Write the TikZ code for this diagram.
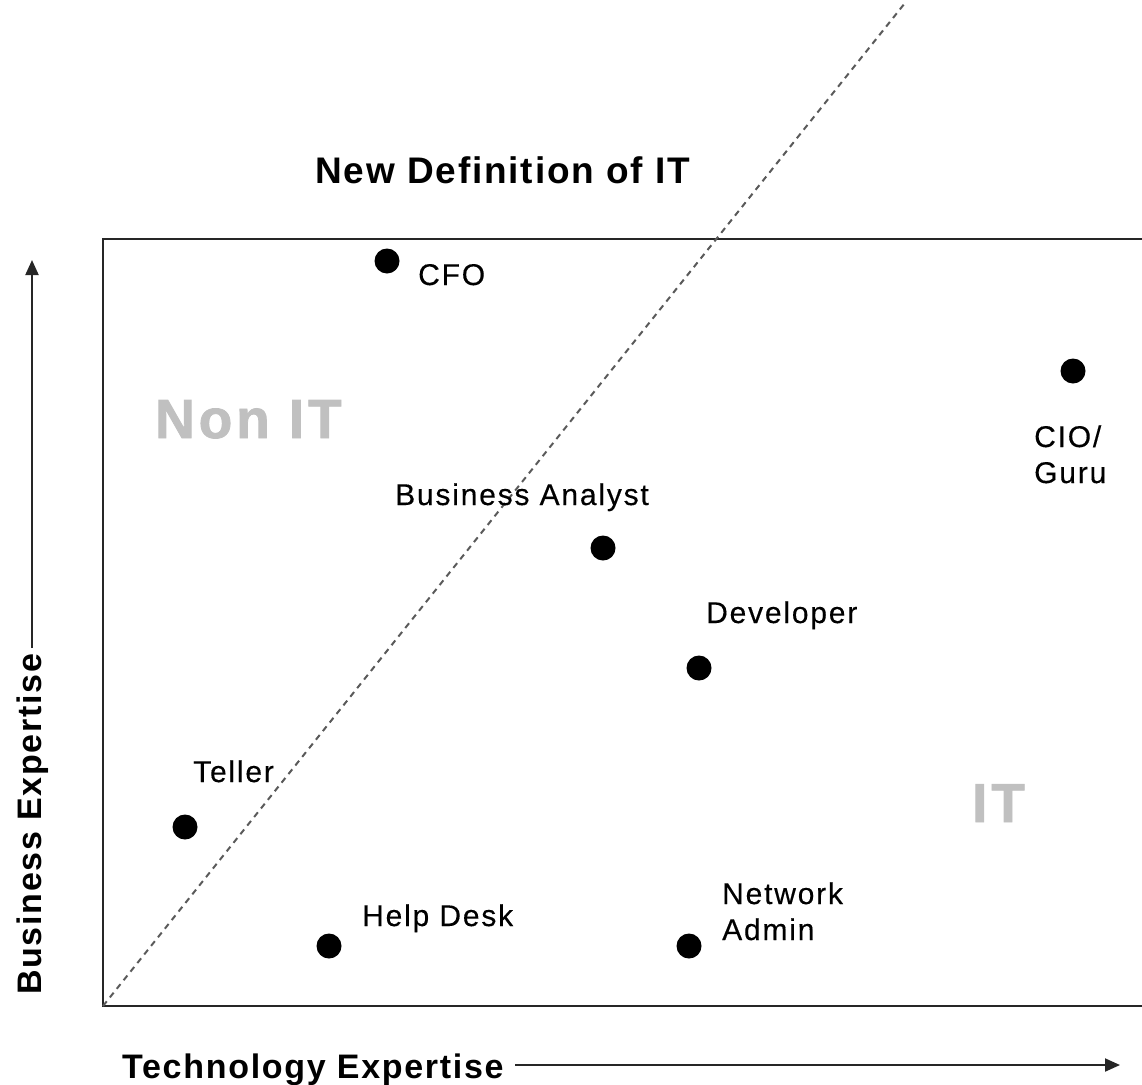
\documentclass[tikz,border=0pt]{standalone}
\usepackage{fontspec}
\setmainfont{Liberation Sans}
\newfontfamily\labfont[LetterSpace=6,FakeBold=0.3]{Liberation Sans}
\newfontfamily\headfont[LetterSpace=5]{Liberation Sans}
\newfontfamily\wideFont[LetterSpace=7,FakeBold=1.5]{Liberation Sans Bold}
\usetikzlibrary{arrows.meta}
\definecolor{zonegray}{RGB}{192,192,192}
\definecolor{dashgray}{RGB}{90,90,90}
\begin{document}
\begin{tikzpicture}[x=1pt,y=-1pt,
  dot/.style={circle,fill=black,inner sep=0pt,minimum size=25pt},
  lab/.style={anchor=base west,inner sep=0pt,align=left,font=\labfont\fontsize{30}{36}\selectfont},
  head/.style={anchor=base west,inner sep=0pt,font=\headfont\bfseries\fontsize{37}{44}\selectfont},
  axislab/.style={anchor=base west,inner sep=0pt,font=\headfont\bfseries\fontsize{34}{40}\selectfont},
  zone/.style={anchor=base west,inner sep=0pt,text=zonegray,font=\wideFont\fontsize{55}{60}\selectfont},
  frame/.style={line width=2pt,draw=black!85},
  axis/.style={line width=2pt,draw=black!85,-{Triangle[length=15pt,width=13pt]}},
  diag/.style={line width=2pt,draw=dashgray,dash pattern=on 6pt off 5pt}]
\useasboundingbox (0,0) rectangle (1142,1084);

% frame
\coordinate (tr) at (1146,239);
\coordinate (tl) at (103,239);
\coordinate (bl) at (103,1006);
\coordinate (br) at (1146,1006);
\draw[frame] (tr) -- (tl) -- (bl) -- (br);

% diagonal
\coordinate (dtop) at (905,3);
\draw[diag] (bl) -- (dtop);

% title
\node[head] (title) at (315,183) {New Definition of IT};

% zones
\node[zone] (nonit) at (155,438) {Non IT};
\node[zone] (it) at (972,822) {IT};

% dots
\node[dot] (cfo) at (387,261) {};
\node[dot] (cio) at (1073,371) {};
\node[dot] (ba) at (603,548) {};
\node[dot] (dev) at (699,668) {};
\node[dot] (teller) at (185,827) {};
\node[dot] (help) at (329,946) {};
\node[dot] (net) at (689,946) {};

% labels
\node[lab] (cfol) at (418,285) {CFO};
\node[lab] (ciol) at (1034,483) {CIO/\\Guru};
\node[lab] (bal) at (395,505) {Business Analyst};
\node[lab] (devl) at (706,623) {Developer};
\node[lab] (tellerl) at (193,782) {Teller};
\node[lab] (helpl) at (362,926) {Help Desk};
\node[lab] (netl) at (722,940) {Network\\Admin};

% axes
\node[axislab] (tech) at (122,1078) {Technology Expertise};
\coordinate (hs) at (515,1065);
\coordinate (he) at (1120,1065);
\draw[axis] (hs) -- (he);

\node[axislab,rotate=90] (bus) at (41,995) {Business Expertise};
\coordinate (vs) at (32,648);
\coordinate (ve) at (32,260);
\draw[axis] (vs) -- (ve);
\end{tikzpicture}
\end{document}
